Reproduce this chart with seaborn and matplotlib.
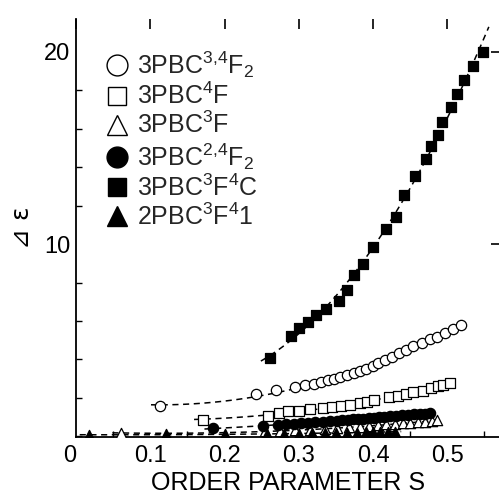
import numpy as np
import pandas as pd
import matplotlib
matplotlib.use("Agg")
import matplotlib.pyplot as plt
from matplotlib.lines import Line2D
from matplotlib.ticker import MultipleLocator
import seaborn as sns

# ---- data ----
labels = ["3PBC$^{3{,}4}$F$_2$", "3PBC$^4$F", "3PBC$^3$F",
          "3PBC$^{2{,}4}$F$_2$", "3PBC$^3$F$^4$C", "2PBC$^3$F$^4$1"]

s_circ_open = [0.113, 0.242, 0.270, 0.295, 0.308, 0.320, 0.330, 0.339, 0.347, 0.356,
               0.365, 0.374, 0.383, 0.391, 0.400, 0.407, 0.416, 0.425, 0.435, 0.445,
               0.454, 0.466, 0.477, 0.486, 0.497, 0.508, 0.518]
d_circ_open = [1.56, 2.18, 2.43, 2.55, 2.67, 2.75, 2.84, 2.92, 2.99, 3.07,
               3.17, 3.28, 3.40, 3.52, 3.64, 3.80, 3.98, 4.15, 4.32, 4.50,
               4.68, 4.86, 5.04, 5.18, 5.39, 5.56, 5.79]

s_sq_open = [0.171, 0.258, 0.273, 0.286, 0.300, 0.315, 0.333, 0.345, 0.357, 0.369,
             0.382, 0.392, 0.401, 0.421, 0.433, 0.444, 0.454, 0.467, 0.478, 0.487,
             0.494, 0.504]
d_sq_open = [0.85, 1.08, 1.24, 1.30, 1.33, 1.40, 1.46, 1.52, 1.58, 1.64,
             1.72, 1.78, 1.88, 2.03, 2.10, 2.19, 2.29, 2.38, 2.52, 2.62,
             2.69, 2.79]

s_tri_open = [0.061, 0.255, 0.275, 0.295, 0.315, 0.335, 0.352, 0.368, 0.382, 0.395,
              0.407, 0.418, 0.429, 0.440, 0.450, 0.460, 0.470, 0.479, 0.486]
d_tri_open = [0.18, 0.26, 0.29, 0.32, 0.35, 0.39, 0.43, 0.47, 0.51, 0.55,
              0.58, 0.62, 0.65, 0.68, 0.71, 0.74, 0.77, 0.80, 0.84]

s_circ_fill = [0.185, 0.252, 0.272, 0.283, 0.293, 0.303, 0.313, 0.322, 0.332, 0.342,
               0.352, 0.358, 0.366, 0.373, 0.380, 0.387, 0.394, 0.401, 0.408, 0.415,
               0.423, 0.431, 0.439, 0.447, 0.455, 0.463, 0.470, 0.477]
d_circ_fill = [0.42, 0.56, 0.60, 0.63, 0.65, 0.68, 0.71, 0.73, 0.76, 0.79,
               0.82, 0.84, 0.87, 0.89, 0.91, 0.93, 0.96, 0.98, 1.00, 1.02,
               1.05, 1.07, 1.09, 1.12, 1.14, 1.17, 1.19, 1.22]

s_sq_fill = [0.261, 0.290, 0.300, 0.312, 0.323, 0.337, 0.354, 0.365, 0.374, 0.387,
             0.400, 0.418, 0.431, 0.442, 0.457, 0.472, 0.478, 0.488, 0.493, 0.505,
             0.513, 0.522, 0.535, 0.548]
d_sq_fill = [4.06, 5.22, 5.62, 5.96, 6.31, 6.65, 7.05, 7.61, 8.37, 8.96,
             9.86, 10.76, 11.42, 12.55, 13.52, 14.40, 15.10, 15.67, 16.36, 17.14,
             17.80, 18.53, 19.26, 19.97]

s_tri_fill = [0.017, 0.121, 0.200, 0.257, 0.280, 0.300, 0.318, 0.335, 0.350, 0.365,
              0.378, 0.390, 0.400, 0.410, 0.420, 0.430]
d_tri_fill = [0.08, 0.10, 0.12, 0.13, 0.14, 0.15, 0.16, 0.17, 0.18, 0.19,
              0.20, 0.21, 0.22, 0.23, 0.24, 0.25]

x_ticks = [0, 0.1, 0.2, 0.3, 0.4, 0.5]
x_ticklabels = ["0", "0.1", "0.2", "0.3", "0.4", "0.5"]
y_ticks = [10, 20]

series = [
    (s_circ_open, d_circ_open, "o", False),
    (s_sq_open, d_sq_open, "s", False),
    (s_tri_open, d_tri_open, "^", False),
    (s_circ_fill, d_circ_fill, "o", True),
    (s_sq_fill, d_sq_fill, "s", True),
    (s_tri_fill, d_tri_fill, "^", True),
]

# ---- style ----
sns.set_theme(style="white")
plt.rcParams["font.family"] = ["Liberation Sans", "DejaVu Sans"]
plt.rcParams["mathtext.default"] = "regular"

fig = plt.figure(figsize=(4.99, 5.0), dpi=100)
ax = fig.add_axes([76 / 499, 1 - 437 / 500, (501 - 76) / 499, (437 - 19) / 500])

for (sx, sy, mk, filled), lab in zip(series, labels):
    sx = np.asarray(sx); sy = np.asarray(sy)
    coef = np.polyfit(sx, sy, 2)
    lo = max(0.0, sx.min() - 0.012)
    hi = sx.max() + 0.008
    xs = np.linspace(lo, hi, 100)
    sns.lineplot(x=xs, y=np.polyval(coef, xs), ax=ax, color="black",
                 linestyle=(0, (4, 3)), linewidth=1.1, zorder=2)
    df = pd.DataFrame({"S": sx, "D": sy})
    sns.scatterplot(data=df, x="S", y="D", ax=ax, marker=mk,
                    s=55 if mk != "s" else 48,
                    facecolor="black" if filled else "white",
                    edgecolor="black", linewidth=0.9, zorder=3, legend=False)

ax.set_xlim(0, (501 - 76) / 742.5)
ax.set_ylim(-0.03, 21.7)
ax.set_xticks(x_ticks)
ax.set_xticklabels(x_ticklabels)
ax.set_yticks(y_ticks)
ax.xaxis.set_minor_locator(MultipleLocator(0.05))
ax.yaxis.set_minor_locator(MultipleLocator(2))

for side in ["top", "right"]:
    ax.spines[side].set_visible(False)
for side in ["left", "bottom"]:
    ax.spines[side].set_color("black")
    ax.spines[side].set_linewidth(1.3)

ax.tick_params(axis="both", which="major", direction="in", length=7, width=1.2,
               labelsize=17, colors="black", top=True, right=True, pad=6)
ax.tick_params(axis="both", which="minor", direction="in", length=4, width=1.0,
               colors="black", top=False, right=False, left=True, bottom=True)
ax.tick_params(axis="y", which="major", pad=4)
ax.get_xticklabels()[0].set_horizontalalignment("right")

ax.set_xlabel("ORDER PARAMETER S", fontsize=18, labelpad=3, color="black")
ax.set_ylabel("⊿ ε", fontsize=18, labelpad=7, color="black",
              family=["DejaVu Sans"])

handles = []
for (sx, sy, mk, filled), lab in zip(series, labels):
    handles.append(Line2D([], [], linestyle="none", marker=mk, markersize=15 if mk != "s" else 13,
                          markerfacecolor="black" if filled else "white",
                          markeredgecolor="black", markeredgewidth=1.0, label=lab))
ax.legend(handles=handles, loc="upper left", bbox_to_anchor=(0.067, 0.927),
          frameon=False, fontsize=18, handlelength=1.0, handletextpad=0.3,
          labelspacing=0.11, borderpad=0, borderaxespad=0)

fig.savefig("out.png", dpi=100)
